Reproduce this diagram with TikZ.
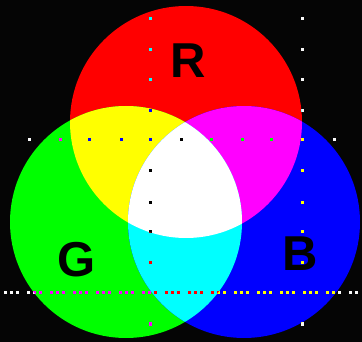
\documentclass[tikz,border=0pt]{standalone}
\usepackage{fontspec}
\setmainfont{Liberation Sans}
\definecolor{cR}{rgb}{1,0,0}
\definecolor{cG}{rgb}{0,1,0}
\definecolor{cB}{rgb}{0,0,1}
\definecolor{cY}{rgb}{1,1,0}
\definecolor{cM}{rgb}{1,0,1}
\definecolor{cC}{rgb}{0,1,1}
\definecolor{cW}{rgb}{1,1,1}
\definecolor{cK}{rgb}{0.02,0.02,0.02}
\begin{document}
\begin{tikzpicture}[x=1pt,y=-1pt,
  lbl/.style={text=black,font=\bfseries\fontsize{49}{49}\selectfont,inner sep=0pt},
  dot/.style={fill=cW,blend mode=difference}]
\fill[cK] (0,0) rectangle (362,342);
\useasboundingbox (0,0) rectangle (362,342);
\def\Rc{(186,122) circle (116)}
\def\Gc{(126,222) circle (116)}
\def\Bc{(244,222) circle (116)}
\fill[cR] \Rc;
\fill[cG] \Gc;
\fill[cB] \Bc;
\begin{scope}\clip \Rc; \fill[cY] \Gc;\end{scope}
\begin{scope}\clip \Rc; \fill[cM] \Bc;\end{scope}
\begin{scope}\clip \Gc; \fill[cC] \Bc;\end{scope}
\begin{scope}\clip \Rc; \clip \Gc; \fill[cW] \Bc;\end{scope}
\node[lbl] (R) at (188.5,60.5) {R};
\node[lbl] (G) at (76.5,260) {G};
\node[lbl] (B) at (300,253.5) {B};
% dots
\foreach \yy in {19,50,79.5,111,139.5,171,203,232,263,324}{
  \fill[dot] (150.5-1.5,\yy-1.5) rectangle ++(3,3);
  \fill[dot] (302.5-1.5,\yy-1.5) rectangle ++(3,3);
}
\foreach \xx in {29,60,89.5,121,181,211,242,271.5,334}{
  \fill[dot] (\xx-1.5,139.5-1.5) rectangle ++(3,3);
}
\foreach \k in {1,...,62}{
  \pgfmathtruncatemacro{\m}{mod(\k,4)}
  \ifnum\m=0\else
    \fill[dot] (5.75*\k-1.5,292.5-1.5) rectangle ++(3,3);
  \fi
}
\end{tikzpicture}
\end{document}
